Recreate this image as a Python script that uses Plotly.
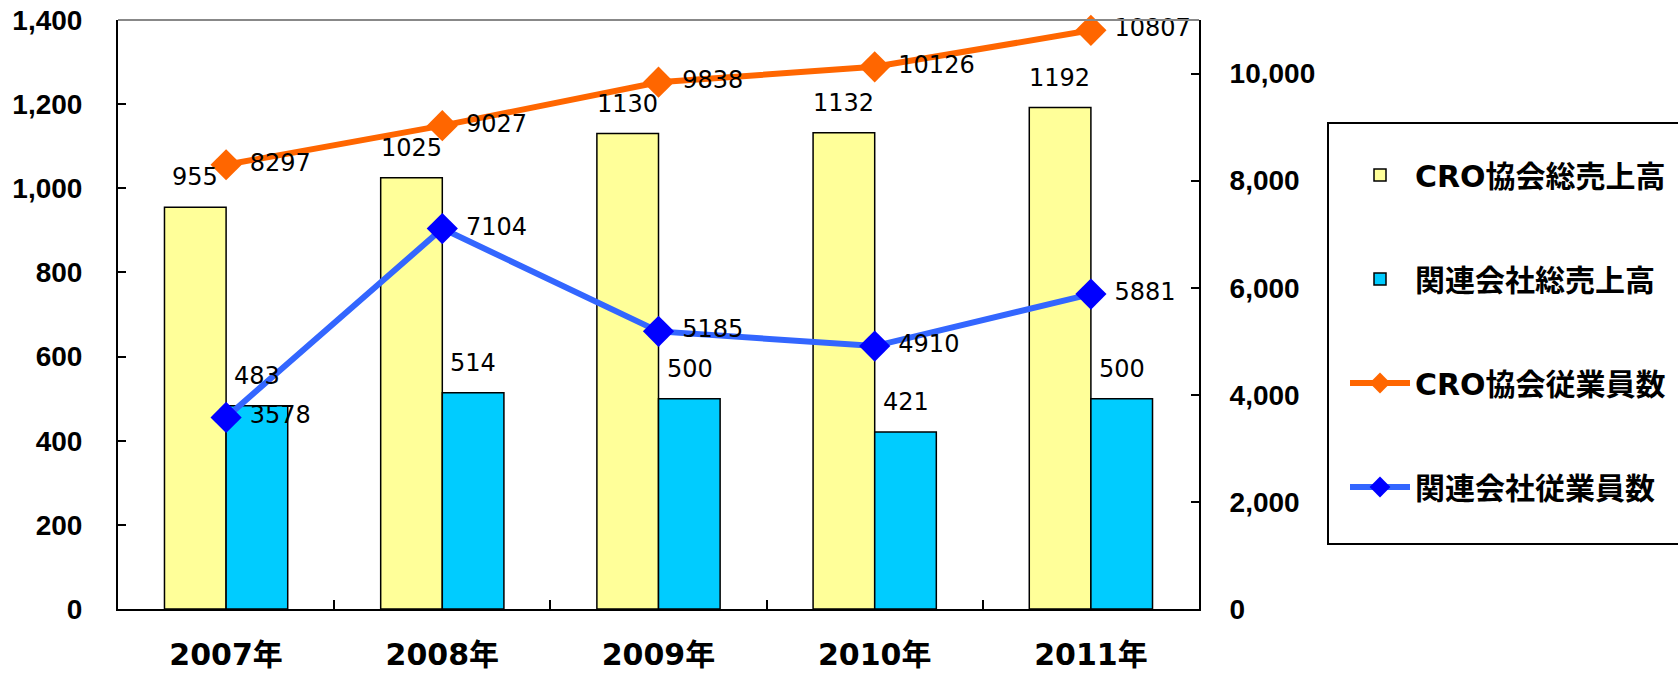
import plotly.graph_objects as go

categories = ["2007年", "2008年", "2009年", "2010年", "2011年"]
cro_sales = [955, 1025, 1130, 1132, 1192]
affil_sales = [483, 514, 500, 421, 500]
cro_staff = [8297, 9027, 9838, 10126, 10807]
affil_staff = [3578, 7104, 5185, 4910, 5881]

names = ["CRO協会総売上高", "関連会社総売上高", "CRO協会従業員数", "関連会社従業員数"]

FONT = "DejaVu Sans, Noto Sans CJK JP, sans-serif"
TICKFONT = "Liberation Sans, Arial, sans-serif"
NB = "\u00a0"

fig = go.Figure()
fig.add_trace(go.Bar(x=categories, y=cro_sales, name=names[0], legendgroup="a",
                     marker=dict(color="#FFFF99", line=dict(color="black", width=1.5)), yaxis="y"))
fig.add_trace(go.Bar(x=categories, y=affil_sales, name=names[1], legendgroup="b",
                     marker=dict(color="#00CCFF", line=dict(color="black", width=1.5)), yaxis="y"))
fig.add_trace(go.Scatter(x=categories, y=cro_staff, name=names[2], legendgroup="c", yaxis="y2",
                         mode="lines+markers+text", text=[NB + str(v) for v in cro_staff],
                         textposition="middle right",
                         textfont=dict(family=FONT, size=24, color="black"),
                         line=dict(color="#FF6600", width=6),
                         marker=dict(symbol="diamond", size=24, color="#FF6600"),
                         cliponaxis=False))
fig.add_trace(go.Scatter(x=categories, y=affil_staff, name=names[3], legendgroup="d", yaxis="y2",
                         mode="lines+markers+text", text=[NB + str(v) for v in affil_staff],
                         textposition="middle right",
                         textfont=dict(family=FONT, size=24, color="black"),
                         line=dict(color="#3366FF", width=6),
                         marker=dict(symbol="diamond", size=24, color="#0000FF"),
                         cliponaxis=False))

annotations = []
for series, shift in ((cro_sales, -31), (affil_sales, 31)):
    for c, v in zip(categories, series):
        annotations.append(dict(x=c, y=v, xref="x", yref="y", text=str(v), showarrow=False,
                                xshift=shift, yshift=30, yanchor="middle",
                                font=dict(family=FONT, size=24, color="black")))

W, H = 1678, 673
L, R, T, B = 118, 1199, 20, 609
pw, ph = R - L, B - T

def px(x):
    return (x - L) / pw

def py(y):
    return (B - y) / ph

fig.update_layout(
    width=W, height=H,
    margin=dict(l=L, r=W - R, t=T, b=H - B, autoexpand=False),
    paper_bgcolor="white", plot_bgcolor="white",
    barmode="group", bargap=0.43, bargroupgap=0,
    font=dict(family=FONT, color="black"),
    xaxis=dict(type="category", tickson="boundaries", ticks="inside", ticklen=9, tickwidth=1.5,
               tickcolor="black", showline=True, linecolor="black", linewidth=2,
               tickfont=dict(family=FONT, size=30, weight="bold"), ticklabelstandoff=18,
               showgrid=False, zeroline=False, automargin=False),
    yaxis=dict(range=[0, 1400], dtick=200, tickformat=",", ticks="inside", ticklen=8, tickwidth=1.5,
               tickcolor="black", showline=True, linecolor="black", linewidth=2,
               tickfont=dict(family=TICKFONT, size=28, weight="bold"), ticklabelstandoff=28,
               ticklabeloverflow="allow",
               showgrid=False, zeroline=False, automargin=False),
    yaxis2=dict(range=[0, 11000], dtick=2000, tickformat=",", overlaying="y", side="right",
                ticks="inside", ticklen=8, tickwidth=1.5, tickcolor="black",
                showline=True, linecolor="black", linewidth=2,
                tickfont=dict(family=TICKFONT, size=28, weight="bold"), ticklabelstandoff=23,
                ticklabeloverflow="allow",
                showgrid=False, zeroline=False, automargin=False),
    showlegend=True,
    legend=dict(x=px(1345), y=py(149), xanchor="left", yanchor="top",
                font=dict(family=FONT, size=30, weight="bold"),
                tracegroupgap=62, itemwidth=60, bgcolor="rgba(0,0,0,0)", borderwidth=0,
                traceorder="grouped"),
    shapes=[
        dict(type="line", xref="paper", yref="paper", x0=0, x1=1, y0=1, y1=1,
             line=dict(color="#888888", width=2)),
        dict(type="rect", xref="paper", yref="paper", x0=px(1328), x1=px(1700),
             y0=py(544), y1=py(123), line=dict(color="black", width=2)),
    ],
    annotations=annotations,
)

fig.write_html("out.html",
               config={"displayModeBar": False},
               post_script="document.body.style.margin='0';document.body.style.overflow='hidden';")
